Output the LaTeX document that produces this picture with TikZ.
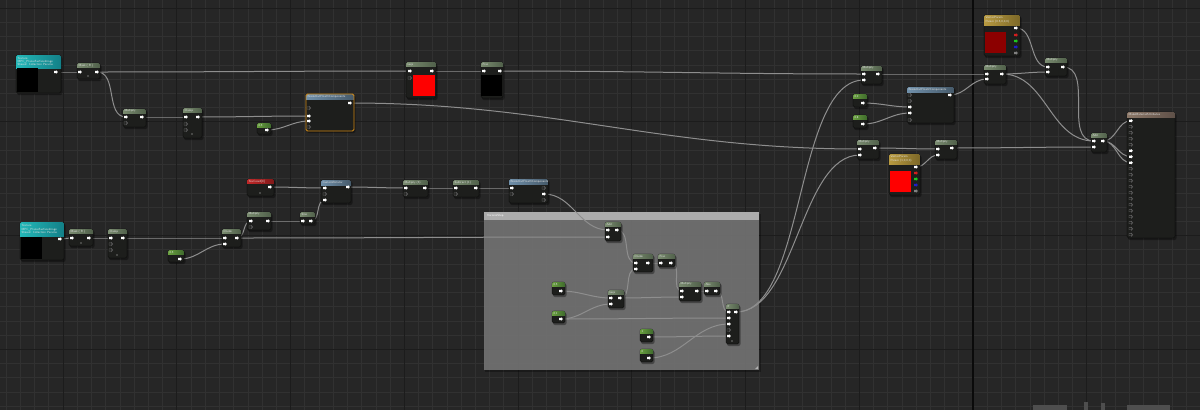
\documentclass[tikz,border=0pt]{standalone}
\usetikzlibrary{calc}
\definecolor{bg}{HTML}{262626}
\definecolor{gmin}{HTML}{313131}
\definecolor{gmaj}{HTML}{1c1c1c}
\definecolor{axisc}{HTML}{0a0a0a}
\definecolor{bodyc}{HTML}{1d1e1c}
\definecolor{wirec}{HTML}{8E8E8E}
\definecolor{cmtbody}{HTML}{777777}
\definecolor{cmthead}{HTML}{acacac}
\definecolor{selc}{HTML}{d9901a}
\definecolor{hgA}{HTML}{7A8C70}\definecolor{hgB}{HTML}{50604A}
\definecolor{hcA}{HTML}{6AA040}\definecolor{hcB}{HTML}{3E6A2C}
\definecolor{htA}{HTML}{23B8B8}\definecolor{htB}{HTML}{138088}
\definecolor{hbA}{HTML}{7090AA}\definecolor{hbB}{HTML}{465A6A}
\definecolor{hrA}{HTML}{C02828}\definecolor{hrB}{HTML}{801818}
\definecolor{hoA}{HTML}{B89A40}\definecolor{hoB}{HTML}{7C6828}
\definecolor{hwA}{HTML}{8C7868}\definecolor{hwB}{HTML}{5E5048}
\definecolor{pinR}{HTML}{D21E1E}
\definecolor{pinG}{HTML}{1EC81E}
\definecolor{pinB}{HTML}{1E1EC8}
\definecolor{darkred}{HTML}{8C0000}
\definecolor{wmark}{HTML}{4E4E4E}
\pgfdeclarelayer{bgl}
\pgfdeclarelayer{wirel}
\pgfsetlayers{bgl,wirel,main}
\tikzset{
  gridmin/.style={draw=gmin,line width=0.6pt},
  gridmaj/.style={draw=gmaj,line width=1pt},
  ubody/.style={fill=bodyc,draw=black,line width=0.3pt,rounded corners=1.5pt,inner sep=0pt,outer sep=0pt},
  ulabel/.style={font=\sffamily\fontsize{3}{3.4}\selectfont,text=white!88!black,anchor=west,inner sep=0pt,align=left},
  hgreen/.style={left color=hgA,right color=hgB},
  hconst/.style={left color=hcA,right color=hcB},
  hteal/.style={left color=htA,right color=htB},
  hblue/.style={left color=hbA,right color=hbB},
  hred/.style={left color=hrA,right color=hrB},
  hgold/.style={left color=hoA,right color=hoB},
  hbrown/.style={left color=hwA,right color=hwB},
  pwhite/.style={fill=white},
  pred/.style={fill=pinR},
  pgreen/.style={fill=pinG},
  pblue/.style={fill=pinB},
  pgray/.style={fill=gray},
  pdim/.style={draw=white!40!black,line width=0.35pt},
  wire/.style={draw=wirec,line width=1pt},
  dotc/.style={fill=white!45!black}
}
\newcommand\uenode[8]{%
  \fill[black,opacity=0.35,rounded corners=2pt] ({#2+1},{#3+1.5}) rectangle ({#4+1.5},{#5+2});
  \node[ubody,anchor=north west,minimum width={#4-#2},minimum height={#5-#3}] (#1) at (#2,#3) {};
  \begin{scope}
    \clip[rounded corners=1.5pt] (#2,#3) rectangle (#4,#5);
    \shade[#6] (#2,#3) rectangle (#4,{#3+#7});
  \end{scope}
  \node[ulabel] (#1-t) at ({#2+1.3},{#3+#7/2}) {#8};
}
\newcommand\upin[4][pwhite]{%
  \coordinate (#2) at (#3,#4);
  \fill[#1] ({#3-2},{#4-1.1}) rectangle ({#3+0.2},{#4+1.1}) ({#3+0.2},{#4-1.7}) -- ({#3+1.8},{#4}) -- ({#3+0.2},{#4+1.7}) -- cycle;}
\newcommand\udim[2]{%
  \draw[pdim] ({#1-2},{#2-1.1}) rectangle ({#1+0.2},{#2+1.1}) ({#1+0.2},{#2-1.7}) -- ({#1+1.8},{#2}) -- ({#1+0.2},{#2+1.7}) -- cycle;}
\newcommand\udot[2]{\fill[dotc] (#1,#2) circle (0.8);}
\begin{document}
\begin{tikzpicture}[x=1pt,y=-1pt]
\useasboundingbox (0,0) rectangle (1200,410);
\begin{pgfonlayer}{bgl}
\fill[bg] (0,0) rectangle (1200,410);
\foreach \k in {-69,...,16} \draw[gridmin] ({973+\k*14.21875},0) -- ({973+\k*14.21875},410);
\foreach \k in {-1,...,29} \draw[gridmin] (0,{8+\k*14.21875}) -- (1200,{8+\k*14.21875});
\foreach \k in {-9,...,2} \draw[gridmaj] ({973+\k*113.75},0) -- ({973+\k*113.75},410);
\foreach \k in {0,...,3} \draw[gridmaj] (0,{8+\k*113.75}) -- (1200,{8+\k*113.75});
\draw[draw=axisc,line width=1.3pt] (973,0) -- (973,410);
% watermark remnants
\fill[wmark] (1033,405) rectangle (1067,410);
\fill[wmark] (1084,402) rectangle (1088,410);
\fill[wmark] (1101,403) rectangle (1105,410);
\fill[wmark] (1127,405) rectangle (1170,410);
% comment box
\fill[black,opacity=0.3] (485,214) rectangle (761,372);
\fill[cmtbody,fill opacity=0.88] (484,212) rectangle (759,370);
\fill[cmthead] (484,212) rectangle (759,220);
\node[ulabel,text=white] (cmt) at (487,216) {VoronoiStep};
\fill[white!70!black] (758,366) -- (758,369) -- (755,369) -- cycle;
\end{pgfonlayer}

% ---------------- row 1 ----------------
\uenode{t1}{16}{55}{61}{93}{hteal}{13}{Texture\\MPC\_PlanarSurfaceImage\\Shared: Collection Params}
\fill[black] (17,68) rectangle (38,92);
\upin{t1o}{56}{72}
\uenode{n2}{77}{63}{100}{79}{hgreen}{4.5}{Mask ( R )}
\upin{n2i}{80}{72}\upin{n2o}{97}{72}\udot{88}{76}
\uenode{m3}{123}{109}{146}{127}{hgreen}{4.5}{Multiply}
\upin{m3a}{126}{117}\udim{126}{123}\upin{m3o}{142}{117}
\uenode{c4}{183}{108}{202}{138}{hgreen}{4.5}{Clamp}
\upin{c4a}{186}{117}\udim{186}{124}\udim{186}{130}\upin{c4o}{198}{117}\udot{192}{134}
\uenode{k5}{257}{123}{271}{134}{hconst}{4.5}{0.5}
\upin{k5o}{267}{130}
\uenode{b6}{306}{94}{354}{131}{hblue}{5}{BreakOutFloat3Components}
\draw[selc,line width=0.9pt,rounded corners=1.5pt] (306,94) rectangle (354,131);
\upin{b6o}{350}{103}\udim{309}{108}\upin{b6b}{309}{116}\upin{b6c}{309}{121}\udim{309}{127}
\uenode{l7}{406}{62}{436}{98}{hgreen}{4.5}{Lerp}
\fill[red] (413,75) rectangle (435,96);
\upin{l7a}{410}{71}\udim{410}{78}\upin{l7o}{432}{71}
\uenode{n8}{481}{62}{503}{98}{hgreen}{4.5}{Frac}
\fill[black] (481,75) rectangle (502,96);
\upin{n8i}{484}{71}\upin{n8o}{500}{71}
\uenode{m9}{861}{66}{882}{84}{hgreen}{4.5}{Multiply}
\upin{m9a}{864}{74}\upin{m9b}{864}{80}\upin{m9o}{878}{74}
\uenode{k10}{853}{94}{867}{107}{hconst}{4.5}{0.2}
\upin{k10o}{863}{103}
\uenode{k11}{853}{115}{867}{128}{hconst}{4.5}{0.8}
\upin{k11o}{863}{124}
\uenode{b12}{907}{87}{954}{123}{hblue}{5}{BreakOutFloat2Components}
\udim{910}{95}\udim{910}{101}\upin{b12c}{910}{107}\upin{b12d}{910}{113}\udim{910}{120}\upin{b12o}{950}{95}
\uenode{m13}{857}{140}{879}{159}{hgreen}{4.5}{Multiply}
\upin{m13a}{860}{149}\upin{m13b}{860}{155}\upin{m13o}{875}{148}
\uenode{v14}{889}{154}{920}{195}{hgold}{10}{VectorParam\\Param (1,0,0,0)}
\fill[red] (890,171) rectangle (911,192);
\upin{v14o}{916}{167}\upin[pred]{v14r}{916}{173}\upin[pgreen]{v14g}{916}{179}\upin[pblue]{v14b}{916}{185}\upin[pgray]{v14a}{916}{191}
\uenode{m15}{935}{140}{957}{159}{hgreen}{4.5}{Multiply}
\upin{m15a}{938}{149}\upin{m15b}{938}{155}\upin{m15o}{952}{148}
\uenode{v16}{984}{15}{1020}{56}{hgold}{10}{VectorParam\\Param (0.5,0,0,0)}
\fill[darkred] (985,32) rectangle (1006,53);
\upin{v16o}{1016}{28}\upin[pred]{v16r}{1016}{35}\upin[pgreen]{v16g}{1016}{41}\upin[pblue]{v16b}{1016}{47}\upin[pgray]{v16a}{1016}{53}
\uenode{m17}{984}{65}{1006}{84}{hgreen}{4.5}{Multiply}
\upin{m17a}{987}{74}\upin{m17b}{987}{79}\upin{m17o}{1002}{74}
\uenode{m18}{1045}{58}{1067}{76}{hgreen}{4.5}{Multiply}
\upin{m18a}{1048}{67}\upin{m18b}{1048}{72}\upin{m18o}{1063}{67}
\uenode{n19}{1091}{133}{1107}{152}{hgreen}{4.5}{Add}
\upin{n19a}{1094}{141}\upin{n19b}{1094}{147}\upin{n19o}{1103}{141}
\uenode{mm}{1127}{112}{1175}{238}{hbrown}{5}{MakeMaterialAttributes}
\foreach \k in {1,2,3,4,8,9,10,11,12,13,14,15,16,17,18,19} {\udim{1131}{120.7+6*\k}}
\upin{mm0}{1131}{120.7}\upin{mm5}{1131}{150.7}\upin{mm6}{1131}{156.7}\upin{mm7}{1131}{162.7}

% ---------------- row 2 ----------------
\uenode{t21}{20}{222}{64}{260}{hteal}{14}{Texture\\MPC\_PlanarSurfaceImage\\Shared: Collection Params}
\fill[black] (21,237) rectangle (42,259);
\upin{t21o}{60}{239}
\uenode{n22}{69}{229}{93}{246}{hgreen}{4.5}{Mask ( R )}
\upin{n22i}{72}{238}\upin{n22o}{89}{238}\udot{81}{243}
\uenode{c23}{108}{229}{127}{258}{hgreen}{4.5}{Clamp}
\upin{c23a}{111}{238}\udim{111}{244}\udim{111}{250}\upin{c23o}{123}{238}\udot{117}{255}
\uenode{k24}{168}{250}{184}{262}{hconst}{4.5}{0.5}
\upin{k24o}{180}{259}
\uenode{n25}{222}{229}{241}{247}{hgreen}{4.5}{Divide}
\upin{n25a}{225}{238}\upin{n25b}{225}{244}\upin{n25o}{237}{238}
\uenode{r26}{247}{179}{274}{196}{hred}{4.5}{TexCoord[0]}
\upin{r26o}{270}{187}\udot{260}{193}
\uenode{m27}{247}{212}{271}{230}{hgreen}{4.5}{Multiply}
\upin{m27a}{251}{221}\udim{251}{227}\upin{m27o}{268}{221}
\uenode{n28}{300}{212}{315}{224}{hgreen}{4.5}{Sine}
\upin{n28i}{303}{221}\upin{n28o}{311}{221}
\uenode{p29}{321}{180}{351}{203}{hblue}{5}{CustomRotator}
\upin{p29a}{325}{188}\udim{325}{194}\upin{p29c}{325}{200}\upin{p29o}{348}{187}
\uenode{m30}{403}{180}{428}{197}{hgreen}{4.5}{Multiply (3)}
\upin{m30a}{406}{188}\udim{406}{194}\upin{m30o}{425}{188}
\uenode{n31}{453}{180}{479}{197}{hgreen}{4.5}{Subtract (1)}
\upin{n31a}{456}{188}\udim{456}{194}\upin{n31o}{476}{188}
\uenode{n32}{509}{179}{548}{203}{hblue}{5}{BreakOutFloat3Components}
\upin{n32a}{512}{188}\udim{512}{194}\udim{544}{188}\upin{n32o}{544}{194}\udim{544}{200}

% ---------------- inside comment ----------------
\uenode{va}{605}{222}{621}{241}{hgreen}{4.5}{Add}
\upin{vaa}{608}{230}\upin{vab}{608}{237}\upin{vao}{617}{230}
\uenode{vb}{633}{254}{653}{272}{hgreen}{4.5}{Divide}
\upin{vba}{636}{263}\upin{vbb}{636}{269}\upin{vbo}{648}{263}
\uenode{vc}{658}{254}{675}{267}{hgreen}{4.5}{Frac}
\upin{vci}{661}{263}\upin{vco}{671}{263}
\uenode{vd}{552}{282}{565}{295}{hconst}{4.5}{0.5}
\upin{vdo}{561}{291}
\uenode{ve}{608}{290}{624}{308}{hgreen}{4.5}{Lerp}
\upin{vea}{611}{298}\upin{veb}{611}{304}\upin{veo}{620}{298}
\uenode{vf}{679}{282}{701}{301}{hgreen}{4.5}{Multiply}
\upin{vfa}{682}{291}\upin{vfb}{682}{297}\upin{vfo}{697}{291}
\uenode{vg}{704}{282}{720}{295}{hgreen}{4.5}{Abs}
\upin{vgi}{707}{291}\upin{vgo}{716}{291}
\uenode{vh}{552}{311}{565}{323}{hconst}{4.5}{0.1}
\upin{vho}{561}{319}
\uenode{vi}{726}{304}{739}{344}{hgreen}{4.5}{If}
\upin{vi1}{729}{312}\upin{vio}{736}{312}\upin{vi2}{729}{318}\upin{vi3}{729}{324}\udim{729}{330}\upin{vi5}{729}{336}\udot{732}{341}
\uenode{vj}{640}{329}{653}{342}{hconst}{4.5}{1}
\upin{vjo}{649}{337}
\uenode{vk}{640}{349}{653}{362}{hconst}{4.5}{0}
\upin{vko}{649}{358}

% ---------------- wires ----------------
\begin{pgfonlayer}{wirel}
\draw[wire] (t1o) to[out=0,in=180] (n2i);
\draw[wire] (n2o) to[out=0,in=180] (l7a);
\draw[wire] (n2o) to[out=0,in=180] (m3a);
\draw[wire] (m3o) to[out=0,in=180] (c4a);
\draw[wire] (c4o) to[out=0,in=180] (b6b);
\draw[wire] (k5o) to[out=0,in=180] (b6c);
\draw[wire] (b6o) to[out=0,in=180] (m13a);
\draw[wire] (l7o) to[out=0,in=180] (n8i);
\draw[wire] (n8o) to[out=0,in=180] (m9a);
\draw[wire] (m9o) to[out=0,in=180] (m17a);
\draw[wire] (k10o) to[out=0,in=180] (b12c);
\draw[wire] (k11o) to[out=0,in=180] (b12d);
\draw[wire] (b12o) to[out=0,in=180] (m17b);
\draw[wire] (v16o) to[out=0,in=180] (m18a);
\draw[wire] (m17o) to[out=0,in=180] (m18b);
\draw[wire] (m17o) to[out=0,in=180] (n19a);
\draw[wire] (m18o) to[out=0,in=180] (n19a);
\draw[wire] (m13o) to[out=0,in=180] (m15a);
\draw[wire] (v14o) to[out=0,in=180] (m15b);
\draw[wire] (m15o) to[out=0,in=180] (n19b);
\draw[wire] (n19o) to[out=0,in=180] (mm0);
\draw[wire] (n19o) to[out=0,in=180] (mm6);
\draw[wire] (n19o) to[out=0,in=180] (mm7);
\draw[wire] (vio) .. controls +(70,0) and +(-70,0) .. (m9b);
\draw[wire] (vio) .. controls +(60,0) and +(-60,0) .. (m13b);
\draw[wire] (t21o) to[out=0,in=180] (n22i);
\draw[wire] (n22o) to[out=0,in=180] (c23a);
\draw[wire] (c23o) to[out=0,in=180] (n25a);
\draw[wire] (k24o) to[out=0,in=180] (n25b);
\draw[wire] (n25o) to[out=0,in=180] (m27a);
\draw[wire] (n25o) to[out=0,in=180] (vab);
\draw[wire] (r26o) to[out=0,in=180] (p29a);
\draw[wire] (m27o) to[out=0,in=180] (n28i);
\draw[wire] (n28o) to[out=0,in=180] (p29c);
\draw[wire] (p29o) to[out=0,in=180] (m30a);
\draw[wire] (m30o) to[out=0,in=180] (n31a);
\draw[wire] (n31o) to[out=0,in=180] (n32a);
\draw[wire] (n32o) to[out=0,in=180] (vaa);
\draw[wire] (vao) to[out=0,in=180] (vba);
\draw[wire] (vbo) to[out=0,in=180] (vci);
\draw[wire] (vco) to[out=0,in=180] (vfa);
\draw[wire] (veo) to[out=0,in=180] (vbb);
\draw[wire] (veo) to[out=0,in=180] (vfb);
\draw[wire] (vdo) to[out=0,in=180] (vea);
\draw[wire] (vho) to[out=0,in=180] (veb);
\draw[wire] (vho) to[out=0,in=180] (vi2);
\draw[wire] (vfo) to[out=0,in=180] (vgi);
\draw[wire] (vgo) to[out=0,in=180] (vi1);
\draw[wire] (vko) to[out=0,in=180] (vi3);
\draw[wire] (vjo) to[out=0,in=180] (vi5);
\end{pgfonlayer}
\end{tikzpicture}
\end{document}
